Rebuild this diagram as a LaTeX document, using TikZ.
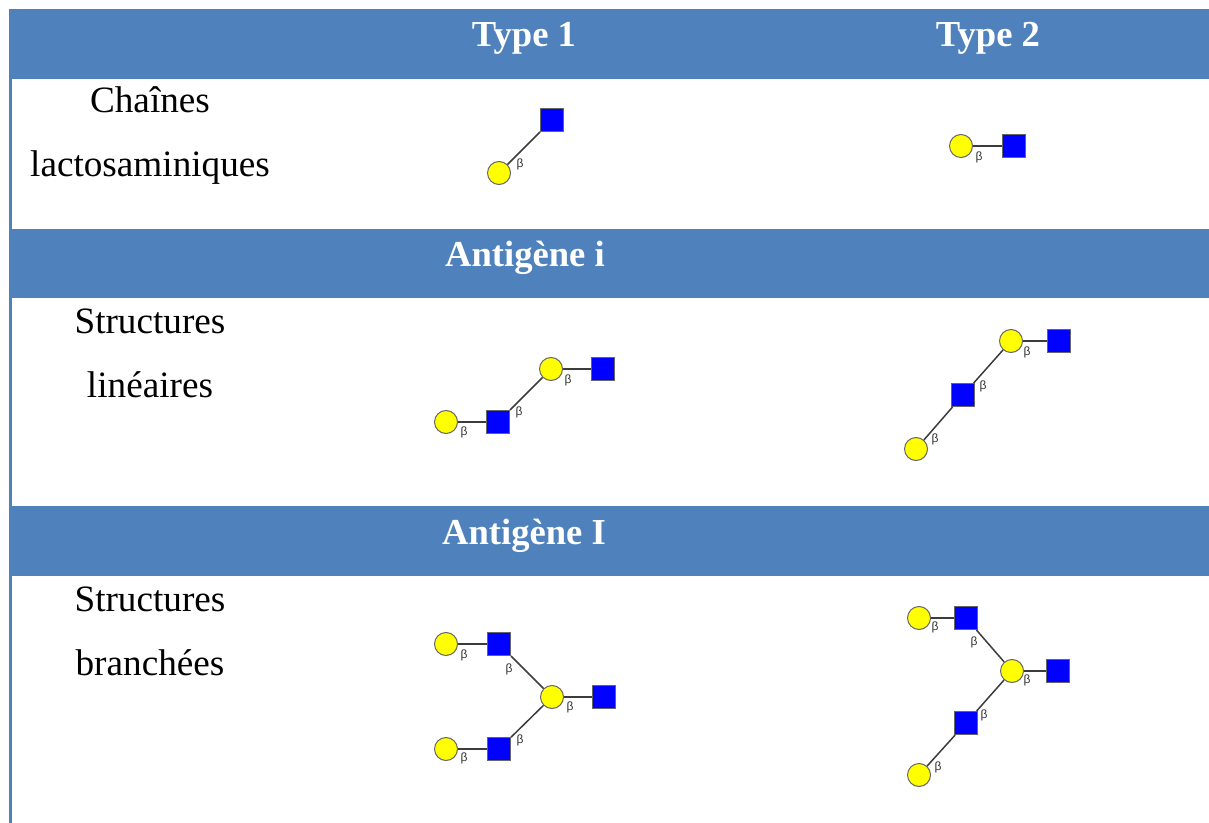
\documentclass[tikz,border=0pt]{standalone}
\usepackage{fontspec}
\setmainfont{Liberation Serif}
\newfontfamily\betafont{Liberation Sans}
\usepackage{tikz}
\definecolor{bandblue}{RGB}{79, 129, 189}
\definecolor{galyellow}{RGB}{255, 255, 0}
\definecolor{glcblue}{RGB}{0, 0, 255}
\definecolor{linkgray}{RGB}{60, 60, 60}

\begin{document}
\begin{tikzpicture}[x=0.5pt, y=-0.5pt,
  gal/.style={circle, draw=black!60, fill=galyellow, line width=0.5pt, minimum size=11.5pt, inner sep=0pt},
  glc/.style={rectangle, draw=black!60, fill=glcblue, line width=0.5pt, minimum size=11.5pt, inner sep=0pt},
  link/.style={draw=linkgray, line width=0.75pt},
  beta/.style={font=\betafont\fontsize{6}{7}\selectfont, inner sep=0pt, text=black!80},
  head/.style={font=\fontsize{18.3}{20}\selectfont\bfseries, text=white, anchor=base},
  rowlabel/.style={font=\fontsize{18.6}{20}\selectfont, anchor=base}]
  \useasboundingbox (0,0) rectangle (1209,823);

  % Header bands
  \fill[bandblue] (9,9) rectangle (1209,79);
  \fill[bandblue] (9,229) rectangle (1209,298);
  \fill[bandblue] (9,506) rectangle (1209,576);
  \fill[bandblue] (9,9) rectangle (12,823);

  \node[head] (type1) at (524,47) {Type 1};
  \node[head] (type2) at (988,47) {Type 2};
  \node[head] (antsmall) at (525,267) {Antigène i};
  \node[head] (antbig) at (524,544) {Antigène I};

  % Row labels
  \node[rowlabel] (chaines) at (150,113) {Chaînes};
  \node[rowlabel] (lacto) at (150,177) {lactosaminiques};
  \node[rowlabel] (struct1) at (150,334) {Structures};
  \node[rowlabel] (lineaires) at (150,398) {linéaires};
  \node[rowlabel] (struct2) at (150,611) {Structures};
  \node[rowlabel] (branchees) at (150,675) {branchées};

  % Lactosamine chains, type 1
  \node[gal] (lacAgal) at (499,173) {};
  \node[glc] (lacAglc) at (552,120) {};
  \draw[link] (lacAgal) -- (lacAglc);
  \node[beta] (lacAb) at (520,164) {β};

  % Lactosamine chains, type 2
  \node[gal] (lacBgal) at (961,146) {};
  \node[glc] (lacBglc) at (1014,146) {};
  \draw[link] (lacBgal) -- (lacBglc);
  \node[beta] (lacBb) at (979,157) {β};

  % Linear structures, type 1
  \node[gal] (linAgal1) at (446,422) {};
  \node[glc] (linAglc1) at (498,422) {};
  \node[gal] (linAgal2) at (551,369) {};
  \node[glc] (linAglc2) at (603,369) {};
  \draw[link] (linAgal1) -- (linAglc1);
  \draw[link] (linAglc1) -- (linAgal2);
  \draw[link] (linAgal2) -- (linAglc2);
  \node[beta] (linAb1) at (464,432) {β};
  \node[beta] (linAb2) at (519,412) {β};
  \node[beta] (linAb3) at (568,380) {β};

  % Linear structures, type 2
  \node[gal] (linBgal1) at (916,449) {};
  \node[glc] (linBglc1) at (963,395) {};
  \node[gal] (linBgal2) at (1011,341) {};
  \node[glc] (linBglc2) at (1059,341) {};
  \draw[link] (linBgal1) -- (linBglc1);
  \draw[link] (linBglc1) -- (linBgal2);
  \draw[link] (linBgal2) -- (linBglc2);
  \node[beta] (linBb1) at (935,439) {β};
  \node[beta] (linBb2) at (983,386) {β};
  \node[beta] (linBb3) at (1027,352) {β};

  % Branched structures, type 1
  \node[gal] (brAgal1) at (446,644) {};
  \node[glc] (brAglc1) at (499,644) {};
  \node[gal] (brAcore) at (552,697) {};
  \node[glc] (brAroot) at (604,697) {};
  \node[glc] (brAglc2) at (499,749) {};
  \node[gal] (brAgal2) at (446,749) {};
  \draw[link] (brAgal1) -- (brAglc1);
  \draw[link] (brAglc1) -- (brAcore);
  \draw[link] (brAcore) -- (brAroot);
  \draw[link] (brAglc2) -- (brAcore);
  \draw[link] (brAgal2) -- (brAglc2);
  \node[beta] (brAb1) at (464,655) {β};
  \node[beta] (brAb2) at (509,669) {β};
  \node[beta] (brAb3) at (570,707) {β};
  \node[beta] (brAb4) at (520,740) {β};
  \node[beta] (brAb5) at (464,758) {β};

  % Branched structures, type 2
  \node[gal] (brBgal1) at (919,618) {};
  \node[glc] (brBglc1) at (966,618) {};
  \node[gal] (brBcore) at (1012,671) {};
  \node[glc] (brBroot) at (1058,671) {};
  \node[glc] (brBglc2) at (966,723) {};
  \node[gal] (brBgal2) at (919,775) {};
  \draw[link] (brBgal1) -- (brBglc1);
  \draw[link] (brBglc1) -- (brBcore);
  \draw[link] (brBcore) -- (brBroot);
  \draw[link] (brBglc2) -- (brBcore);
  \draw[link] (brBgal2) -- (brBglc2);
  \node[beta] (brBb1) at (935,627) {β};
  \node[beta] (brBb2) at (974,642) {β};
  \node[beta] (brBb3) at (1027,680) {β};
  \node[beta] (brBb4) at (984,715) {β};
  \node[beta] (brBb5) at (938,767) {β};
\end{tikzpicture}
\end{document}
